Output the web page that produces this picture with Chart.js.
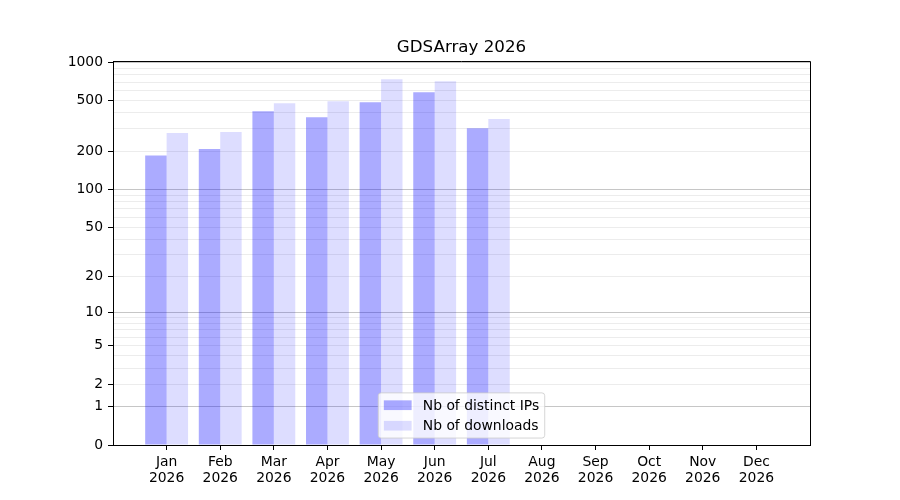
<!DOCTYPE html>
<html>
<head>
<meta charset="utf-8">
<title>GDSArray 2026</title>
<script src="https://cdn.jsdelivr.net/npm/chart.js@4.4.1/dist/chart.umd.min.js"></script>
<style>
    html, body { margin: 0; padding: 0; background: #ffffff; }
    #wrap { width: 900px; height: 500px; }
</style>
</head>
<body>
<div id="wrap"><canvas id="chart" width="900" height="500"></canvas></div>
<script>
// Chart data
const chartTitle = 'GDSArray 2026';
const months = ['Jan', 'Feb', 'Mar', 'Apr', 'May', 'Jun', 'Jul', 'Aug', 'Sep', 'Oct', 'Nov', 'Dec'];
const yearLabel = '2026';
const seriesNames = ['Nb of distinct IPs', 'Nb of downloads'];
const distinctIPs = [185, 208, 413, 371, 486, 582, 304];
const downloads = [278, 283, 478, 495, 736, 710, 358];

// y axis: log10(1 + v) scale
const yTickLabels = [0, 1, 2, 5, 10, 20, 50, 100, 200, 500, 1000];
const yMajorLines = [1, 10, 100, 1000];
const yMinorLines = [3, 4, 6, 7, 8, 9, 30, 40, 60, 70, 80, 90, 300, 400, 600, 700, 800, 900];
const yAxisMax = 1024;

const FONT = 'DejaVu Sans';
const FS = 13.9;

const toAxis = v => Math.log10(1 + v);
const fromAxis = t => Math.round(Math.pow(10, t) - 1);

const yAllLines = [...new Set([...yTickLabels, ...yMinorLines])].sort((a, b) => a - b);

const barColors = ['rgba(0, 0, 255, 0.33)', 'rgba(0, 0, 255, 0.133)'];

function toPoints(values) {
    return values.map((v, i) => ({ x: i, y: toAxis(v) }));
}

// Title over the plot area, plus frame on top/right
const framePlugin = {
    id: 'frame',
    afterDraw(chart) {
        const { ctx, chartArea: a } = chart;
        ctx.save();
        ctx.strokeStyle = '#000000';
        ctx.lineWidth = 1;
        ctx.beginPath();
        ctx.moveTo(a.left, a.top + 0.5);
        ctx.lineTo(a.right + 0.5, a.top + 0.5);
        ctx.lineTo(a.right + 0.5, a.bottom);
        ctx.stroke();

        ctx.fillStyle = '#000000';
        ctx.font = '16.7px "' + FONT + '"';
        ctx.textAlign = 'center';
        ctx.textBaseline = 'alphabetic';
        ctx.fillText(chartTitle, (a.left + a.right) / 2, 52);
        ctx.restore();
    }
};

// matplotlib-like legend, lower center inside the axes
const legendPlugin = {
    id: 'innerLegend',
    afterDraw(chart) {
        const { ctx, chartArea: a } = chart;
        const pad = 0.4 * FS;
        const handleW = 2.0 * FS;
        const handleH = 0.7 * FS;
        const textPad = 0.8 * FS;
        const rowH = 13.55;
        const rowGap = 0.5 * FS;

        ctx.save();
        ctx.font = FS + 'px "' + FONT + '"';
        const textW = Math.max(...seriesNames.map(n => ctx.measureText(n).width));
        const boxW = pad * 2 + handleW + textPad + textW;
        const boxH = pad * 2 + rowH * seriesNames.length + rowGap * (seriesNames.length - 1);
        const boxX = (a.left + a.right) / 2 - boxW / 2;
        const boxY = a.bottom - 0.5 * FS - boxH;

        ctx.beginPath();
        ctx.roundRect(boxX, boxY, boxW, boxH, 2.8);
        ctx.fillStyle = 'rgba(255, 255, 255, 0.8)';
        ctx.fill();
        ctx.strokeStyle = 'rgba(204, 204, 204, 0.8)';
        ctx.lineWidth = 1;
        ctx.stroke();

        seriesNames.forEach((name, i) => {
            const cy = boxY + pad + i * (rowH + rowGap) + rowH / 2;
            ctx.fillStyle = barColors[i];
            ctx.fillRect(boxX + pad, cy - handleH / 2, handleW, handleH);
            ctx.fillStyle = '#000000';
            ctx.textAlign = 'left';
            ctx.textBaseline = 'middle';
            ctx.fillText(name, boxX + pad + handleW + textPad, cy + 1);
        });
        ctx.restore();
    }
};

const chart = new Chart(document.getElementById('chart'), {
    type: 'bar',
    data: {
        datasets: [
            {
                label: seriesNames[0],
                data: toPoints(distinctIPs),
                backgroundColor: barColors[0],
                borderWidth: 0
            },
            {
                label: seriesNames[1],
                data: toPoints(downloads),
                backgroundColor: barColors[1],
                borderWidth: 0
            }
        ]
    },
    options: {
        responsive: false,
        animation: false,
        events: [],
        layout: { padding: { top: 61, right: 90, bottom: 0, left: 0 } },
        datasets: { bar: { categoryPercentage: 0.8, barPercentage: 1.0 } },
        plugins: {
            legend: { display: false },
            title: { display: false },
            tooltip: { enabled: false }
        },
        scales: {
            x: {
                type: 'linear',
                min: -1,
                max: 12,
                offset: false,
                afterBuildTicks: scale => {
                    scale.ticks = months.map((m, i) => ({ value: i }));
                },
                afterFit: scale => { scale.height = 55; },
                ticks: {
                    autoSkip: false,
                    maxRotation: 0,
                    padding: 4,
                    color: '#000000',
                    font: { family: FONT, size: FS, lineHeight: 1.15 },
                    callback: value => [months[value], yearLabel]
                },
                grid: {
                    offset: false,
                    drawOnChartArea: false,
                    drawTicks: true,
                    tickLength: 5,
                    tickColor: '#000000',
                    tickWidth: 1
                },
                border: { display: true, color: '#000000', width: 1 }
            },
            y: {
                type: 'linear',
                min: 0,
                max: toAxis(yAxisMax),
                afterBuildTicks: scale => {
                    scale.ticks = yAllLines.map(v => ({ value: toAxis(v) }));
                },
                afterFit: scale => { scale.width = 113; },
                ticks: {
                    autoSkip: false,
                    padding: 5,
                    color: '#000000',
                    font: { family: FONT, size: FS },
                    callback: value => {
                        const v = fromAxis(value);
                        return yTickLabels.includes(v) ? String(v) : '';
                    }
                },
                grid: {
                    drawTicks: true,
                    tickLength: 5,
                    lineWidth: 1,
                    color: ctx => {
                        const v = fromAxis(ctx.tick.value);
                        if (v === 0) return 'rgba(0, 0, 0, 0)';
                        return yMajorLines.includes(v) ? '#c6c6c6' : '#ececec';
                    },
                    tickColor: ctx => {
                        const v = fromAxis(ctx.tick.value);
                        return yTickLabels.includes(v) ? '#000000' : 'rgba(0, 0, 0, 0)';
                    },
                    tickWidth: 1
                },
                border: { display: true, color: '#000000', width: 1 }
            }
        }
    },
    plugins: [framePlugin, legendPlugin]
});
</script>
</body>
</html>
